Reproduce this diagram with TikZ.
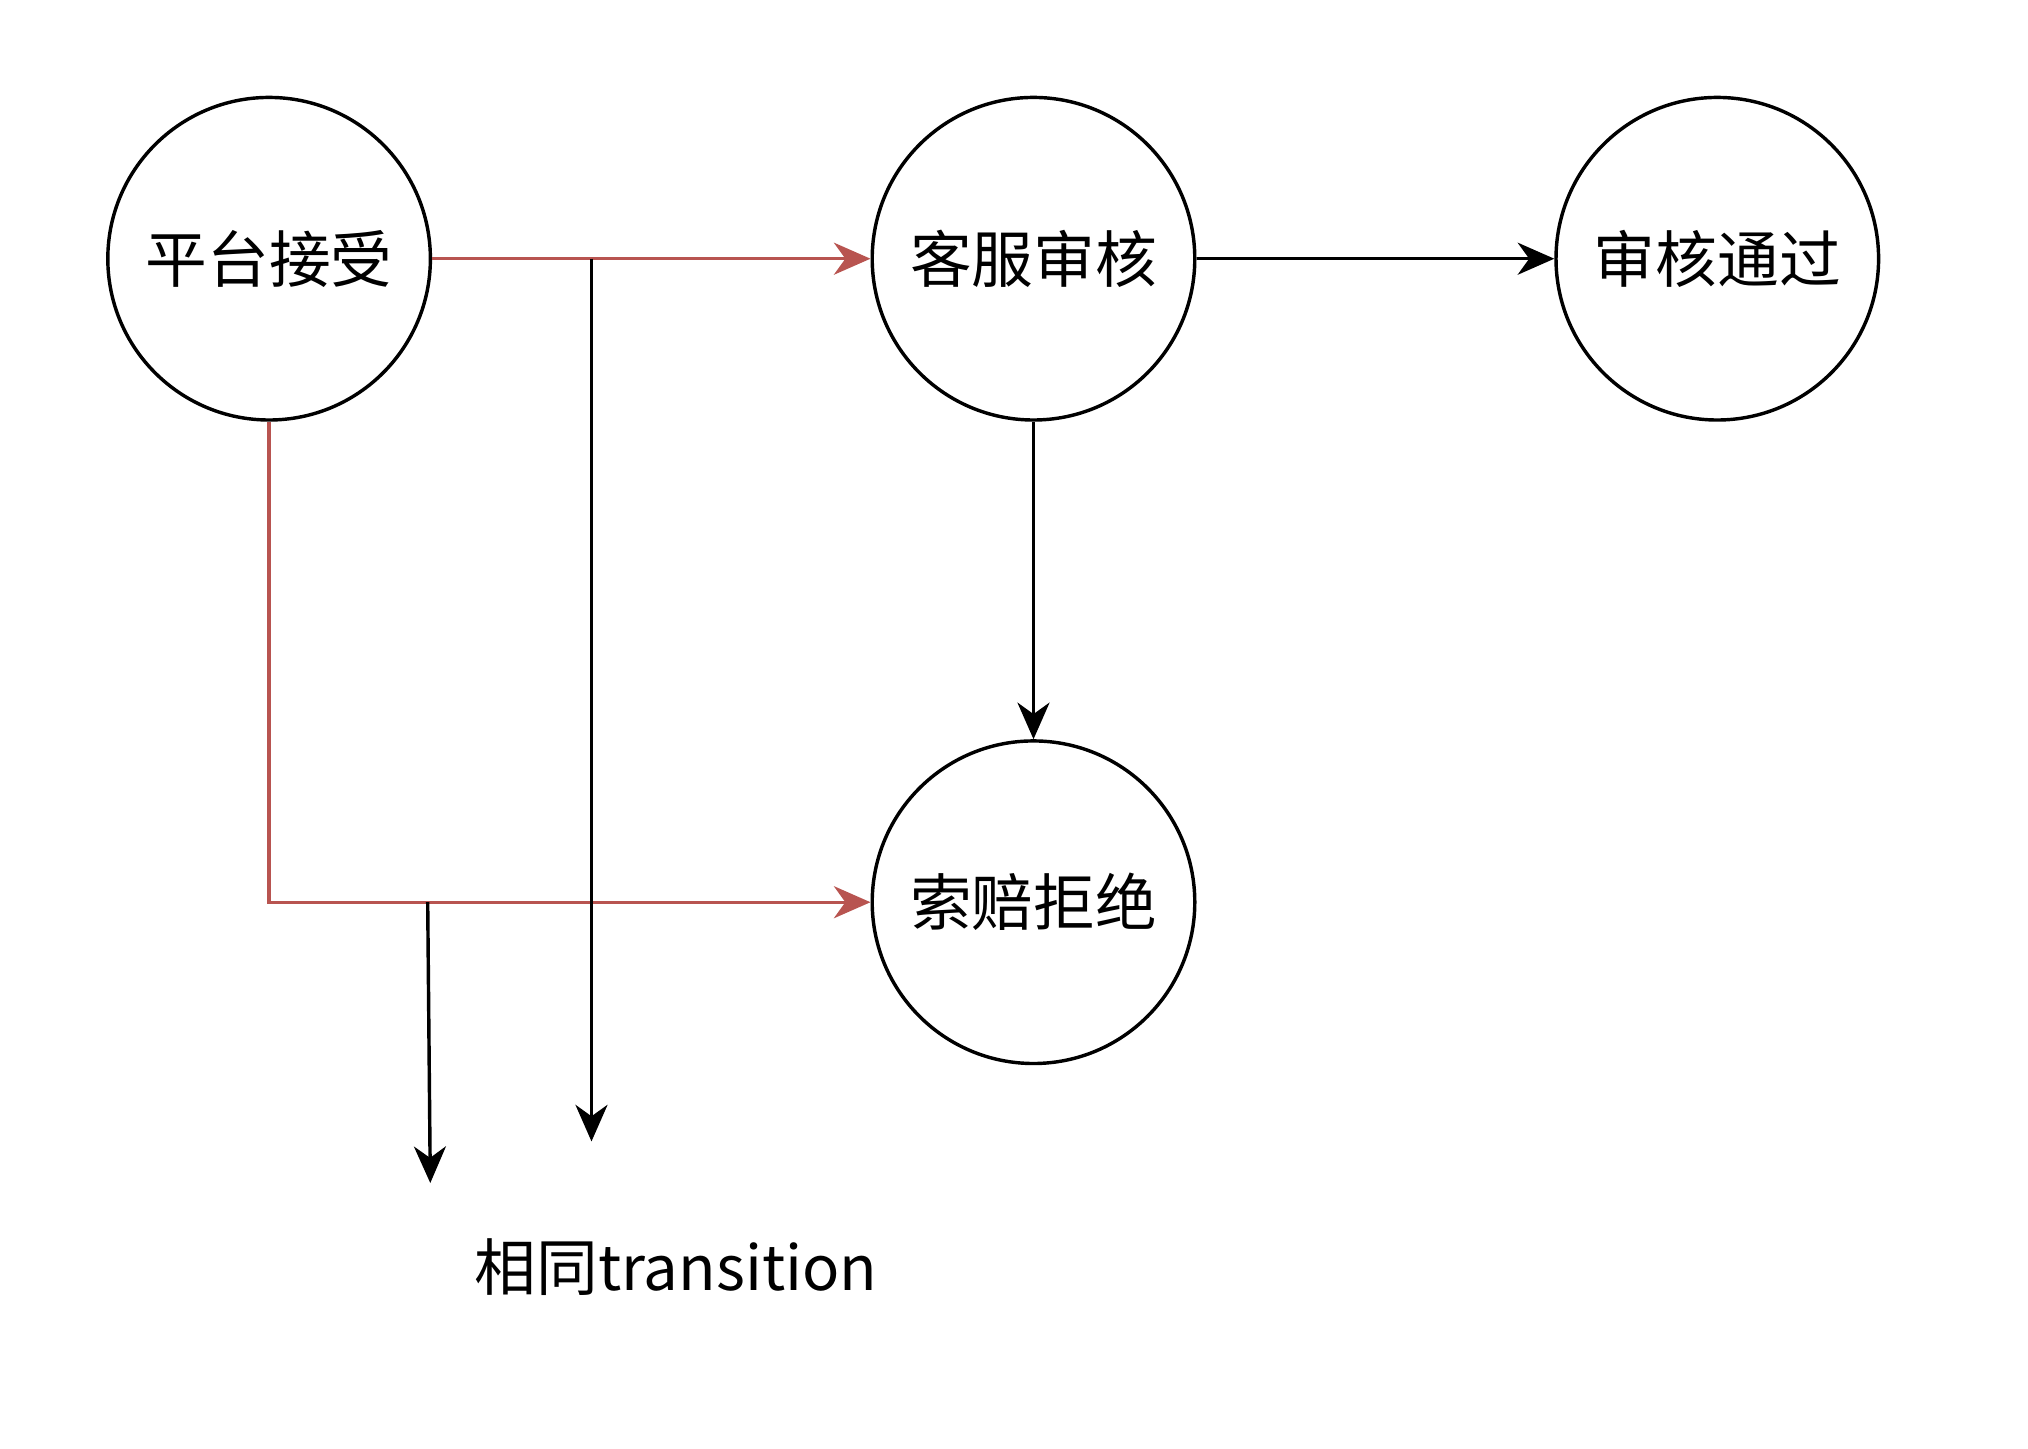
\documentclass[tikz,border=0pt]{standalone}
\usepackage{fontspec}
\setmainfont{Noto Sans CJK SC}
\usetikzlibrary{arrows.meta}
\definecolor{redl}{HTML}{B85450}
\begin{document}
\begin{tikzpicture}[x=0.01cm,y=-0.01cm,
  st/.style={circle,draw,line width=0.75pt,minimum size=2.48cm,inner sep=0pt,font=\fontsize{13.5}{16}\selectfont},
  ar/.style={line width=0.75pt,-{Stealth[length=8pt,width=7pt,inset=2.5pt]}},
  rar/.style={ar,draw=redl}]
\useasboundingbox (0,0) rectangle (1560,1114);
\node[st] (a) at (207,199) {平台接受};
\node[st] (b) at (795,199) {客服审核};
\node[st] (c) at (1321,199) {审核通过};
\node[st] (d) at (795,694) {索赔拒绝};
\coordinate (p1) at (455,199);
\coordinate (p2) at (455,878);
\coordinate (q1) at (329,694);
\coordinate (q2) at (331,910);
\draw[rar] (a.east) -- (b.west);
\draw[rar] (a.south) |- (d.west);
\draw[ar] (b.east) -- (c.west);
\draw[ar] (b.south) -- (d.north);
\draw[ar] (p1) -- (p2);
\draw[ar] (q1) -- (q2);
\node[font=\fontsize{13.5}{16}\selectfont] (t) at (520,975) {相同transition};
\end{tikzpicture}
\end{document}
